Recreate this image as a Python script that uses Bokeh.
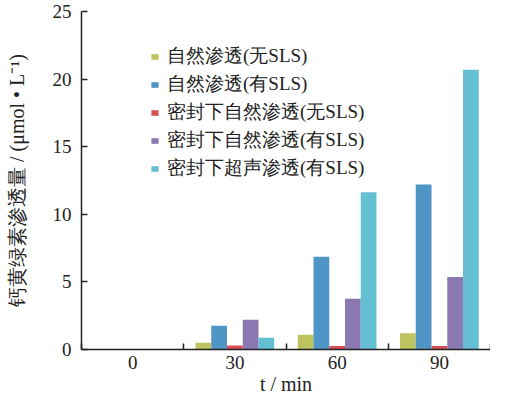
import numpy as np
from bokeh.plotting import figure
from bokeh.models import Range1d, FixedTicker, Legend, LegendItem
from bokeh.embed import file_html
from bokeh.resources import INLINE

# ---- data ----
times = ["0", "30", "60", "90"]
series_names = [
    "自然渗透(无SLS)",
    "自然渗透(有SLS)",
    "密封下自然渗透(无SLS)",
    "密封下自然渗透(有SLS)",
    "密封下超声渗透(有SLS)",
]
natural_no_sls = [0, 0.5, 1.1, 1.2]
natural_sls = [0, 1.75, 6.86, 12.2]
sealed_no_sls = [0, 0.3, 0.25, 0.25]
sealed_sls = [0, 2.2, 3.76, 5.37]
sealed_ultra_sls = [0, 0.87, 11.63, 20.7]
y_ticks = [0, 5, 10, 15, 20, 25]
colors = ["#bdc35f", "#4f95c6", "#d94e55", "#8a78b1", "#63bfd1"]
x_title = "t / min"
y_title = "钙黄绿素渗透量 / (μmol • L⁻¹)"

series = [natural_no_sls, natural_sls, sealed_no_sls, sealed_sls, sealed_ultra_sls]

TXT = "#222222"
SERIF = "Liberation Serif"

p = figure(width=490, height=400, output_backend="svg", toolbar_location=None,
           x_range=Range1d(0, len(times)), y_range=Range1d(0, 25),
           min_border_left=81, min_border_right=0, min_border_top=11, min_border_bottom=51)
p.outline_line_color = None
p.xgrid.visible = False
p.ygrid.visible = False
p.background_fill_color = "white"
p.border_fill_color = "white"

bw = 0.154
idx = np.arange(len(times))
renderers = []
for k, (vals, col) in enumerate(zip(series, colors)):
    xs = idx + 0.5 + (k - 2) * bw
    r = p.vbar(x=xs, top=vals, width=bw, bottom=0, fill_color=col, line_color=None)
    renderers.append(r)

# x axis: labels at group centers, ticks at group boundaries
xa = p.xaxis[0]
xa.ticker = FixedTicker(ticks=list(idx + 0.5), minor_ticks=list(range(len(times) + 1)))
xa.major_label_overrides = {float(i + 0.5): t for i, t in enumerate(times)}
xa.major_tick_in = 0
xa.major_tick_out = 0
xa.minor_tick_in = 6
xa.minor_tick_out = 0
xa.minor_tick_line_color = TXT
xa.minor_tick_line_width = 1.5
xa.axis_line_color = TXT
xa.axis_line_width = 1.5
xa.major_label_text_font = SERIF
xa.major_label_text_font_size = "19px"
xa.major_label_text_color = TXT
xa.major_label_standoff = 6
xa.axis_label = x_title
xa.axis_label_text_font = SERIF
xa.axis_label_text_font_style = "normal"
xa.axis_label_text_font_size = "20px"
xa.axis_label_text_color = TXT
xa.axis_label_standoff = 1

ya = p.yaxis[0]
ya.ticker = FixedTicker(ticks=y_ticks)
ya.minor_tick_line_color = None
ya.major_tick_in = 6
ya.major_tick_out = 0
ya.major_tick_line_color = TXT
ya.major_tick_line_width = 1.5
ya.axis_line_color = TXT
ya.axis_line_width = 1.5
ya.major_label_text_font = SERIF
ya.major_label_text_font_size = "19px"
ya.major_label_text_color = TXT
ya.major_label_standoff = 10
ya.axis_label = y_title
ya.axis_label_text_font = SERIF
ya.axis_label_text_font_style = "normal"
ya.axis_label_text_font_size = "20px"
ya.axis_label_text_color = TXT
ya.axis_label_standoff = 22

items = [LegendItem(label=n, renderers=[r]) for n, r in zip(series_names, renderers)]
legend = Legend(items=items, location=(69, 167), padding=0, margin=0,
                border_line_color=None, background_fill_alpha=0,
                glyph_width=9, glyph_height=7, label_standoff=8, spacing=0,
                label_height=28, label_text_font=SERIF, label_text_font_size="19px",
                label_text_color=TXT)
p.add_layout(legend)

open("out.html", "w").write(file_html(p, INLINE))
